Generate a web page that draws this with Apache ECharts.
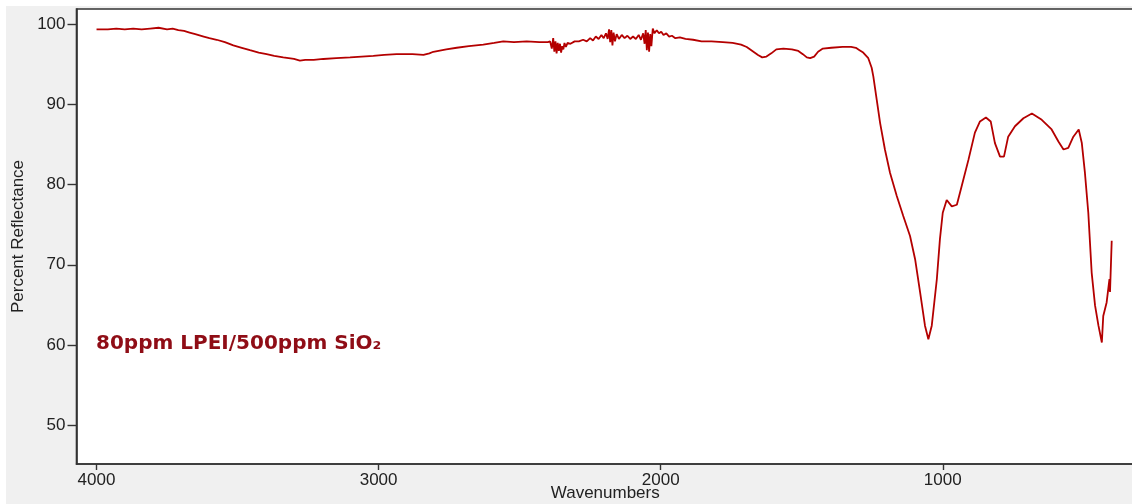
<!DOCTYPE html>
<html>
<head>
<meta charset="utf-8">
<title>80ppm LPEI/500ppm SiO2 reflectance spectrum</title>
<script src="https://cdn.jsdelivr.net/npm/echarts@6/dist/echarts.min.js"></script>
<style>
  html, body { margin: 0; padding: 0; background: #ffffff; }
  #chart {
    position: absolute; left: 0; top: 0; width: 1132px; height: 504px;
    background: #f0f0f0;
    box-shadow: inset 6px 6px 0 #ffffff;
  }
</style>
</head>
<body>
<div id="chart"></div>
<script>
// Spectrum: wavenumber (cm-1) and percent reflectance
const wavenumbers = [
  4000, 3960, 3930, 3900, 3870, 3840, 3810, 3780, 3750, 3730, 3710, 3690, 3670, 3650, 3620, 3600,
  3574, 3545, 3515, 3485, 3456, 3425, 3397, 3370, 3338, 3300, 3279, 3260, 3230, 3196, 3150, 3101,
  3060, 3019, 2980, 2936, 2880, 2841, 2820, 2806, 2760, 2723, 2680, 2629, 2590, 2558, 2520, 2475,
  2430, 2400, 2392, 2386, 2381, 2377, 2373, 2369, 2365, 2361, 2357, 2353, 2349, 2345, 2341, 2336,
  2330, 2320, 2305, 2290, 2275, 2262, 2250, 2240, 2230, 2220, 2210, 2202, 2194, 2188, 2183, 2179,
  2175, 2171, 2167, 2162, 2156, 2148, 2138, 2128, 2118, 2108, 2098, 2088, 2078, 2070, 2062, 2057,
  2053, 2049, 2045, 2041, 2037, 2033, 2028, 2022, 2014, 2006, 1998, 1990, 1980, 1970, 1960, 1948,
  1932, 1912, 1885, 1855, 1820, 1780, 1745, 1715, 1695, 1675, 1655, 1640, 1625, 1608, 1590, 1565,
  1535, 1512, 1496, 1482, 1470, 1456, 1442, 1425, 1395, 1355, 1325, 1308, 1295, 1282, 1264, 1252,
  1246, 1234, 1222, 1205, 1187, 1163, 1140, 1116, 1098, 1080, 1063, 1051, 1039, 1021, 1010, 1000,
  986, 968, 950, 933, 909, 886, 868, 847, 830, 815, 797, 783, 768, 744, 714, 684,
  649, 614, 590, 572, 555, 537, 518, 507, 496, 484, 472, 460, 448, 436, 431, 419,
  409, 407, 401
];
const reflectance = [
  99.4, 99.4, 99.5, 99.4, 99.5, 99.4, 99.5, 99.6, 99.4, 99.5, 99.3, 99.2, 99.0, 98.8, 98.5, 98.3,
  98.1, 97.8, 97.4, 97.1, 96.8, 96.5, 96.3, 96.1, 95.9, 95.7, 95.5, 95.6, 95.6, 95.7, 95.8, 95.9,
  96.0, 96.1, 96.2, 96.3, 96.3, 96.2, 96.4, 96.6, 96.9, 97.1, 97.3, 97.5, 97.7, 97.9, 97.8, 97.9,
  97.8, 97.8, 97.9, 97.0, 98.3, 96.6, 97.9, 96.4, 97.7, 96.7, 97.6, 96.5, 97.3, 96.9, 97.7, 97.2,
  97.7, 97.6, 97.9, 97.9, 98.1, 97.9, 98.3, 98.0, 98.5, 98.2, 98.7, 98.3, 98.9, 98.2, 99.4, 97.8,
  99.3, 97.4, 99.0, 97.9, 98.8, 98.2, 98.7, 98.3, 98.6, 98.2, 98.5, 98.2, 98.7, 98.1, 98.9, 97.6,
  99.3, 96.8, 99.0, 96.6, 98.8, 97.3, 99.5, 98.9, 99.3, 98.9, 99.1, 98.7, 98.9, 98.5, 98.6, 98.3,
  98.4, 98.2, 98.1, 97.9, 97.9, 97.8, 97.7, 97.5, 97.2, 96.7, 96.2, 95.9, 96.0, 96.4, 96.9, 97.0,
  96.9, 96.7, 96.3, 95.9, 95.8, 96.0, 96.6, 97.0, 97.1, 97.2, 97.2, 97.1, 96.8, 96.5, 95.8, 94.6,
  93.5, 90.6, 87.7, 84.4, 81.5, 78.6, 76.1, 73.6, 70.7, 66.5, 62.4, 60.7, 62.4, 68.2, 73.2, 76.5,
  78.1, 77.3, 77.5, 79.8, 83.1, 86.5, 87.9, 88.4, 87.9, 85.2, 83.5, 83.5, 86.0, 87.3, 88.3, 88.9,
  88.1, 86.9, 85.4, 84.4, 84.6, 86.0, 86.9, 85.2, 81.5, 76.5, 69.0, 64.9, 62.4, 60.3, 63.6, 65.3,
  68.2, 66.6, 73.0
];

// Tick positions and labels
const xTicks = [1000, 2000, 3000, 4000];
const yTicks = [50, 60, 70, 80, 90, 100];
const sampleLabel = '80ppm LPEI/500ppm SiO\u2082';

const points = wavenumbers.map((w, i) => [w, reflectance[i]]);

const tickFont = '"Liberation Sans", Arial, sans-serif';
const frameColor = '#333333';
const plain = v => String(v);

const chart = echarts.init(document.getElementById('chart'), null, { renderer: 'canvas' });
chart.setOption({
  animation: false,
  backgroundColor: 'transparent',
  grid: {
    left: 76.5, top: 9, right: -2, bottom: 40,
    show: true, backgroundColor: '#ffffff',
    borderColor: frameColor, borderWidth: 1.6,
    containLabel: false, outerBoundsMode: 'none'
  },
  xAxis: {
    type: 'value', inverse: true, min: 322, max: 4071,
    name: 'Wavenumbers', nameLocation: 'middle', nameGap: 21, nameMoveOverlap: false,
    nameTextStyle: { fontFamily: tickFont, fontSize: 17, color: '#222' },
    axisLine: { show: true, lineStyle: { color: frameColor, width: 1.6 } },
    axisTick: { show: true, inside: false, length: 6, customValues: xTicks,
                lineStyle: { color: frameColor, width: 1.4 } },
    axisLabel: { show: true, customValues: xTicks, margin: 8, formatter: plain,
                 fontFamily: tickFont, fontSize: 17, color: '#222' },
    splitLine: { show: false }
  },
  yAxis: {
    type: 'value', min: 45.13, max: 101.94,
    name: 'Percent Reflectance', nameLocation: 'middle', nameGap: 50, nameMoveOverlap: false,
    nameTextStyle: { fontFamily: tickFont, fontSize: 17, color: '#222' },
    axisLine: { show: true, lineStyle: { color: frameColor, width: 1.6 } },
    axisTick: { show: true, inside: false, length: 9, customValues: yTicks,
                lineStyle: { color: frameColor, width: 1.4 } },
    axisLabel: { show: true, customValues: yTicks, margin: 11, formatter: plain,
                 fontFamily: tickFont, fontSize: 17, color: '#222' },
    splitLine: { show: false }
  },
  graphic: [{
    type: 'text', left: 96, top: 334, z: 10,
    style: {
      text: sampleLabel,
      fill: '#8f0d16',
      font: 'bold 20px "DejaVu Sans", "Liberation Sans", sans-serif'
    }
  }],
  series: [{
    type: 'line', data: points, showSymbol: false, smooth: false,
    lineStyle: { color: '#b40000', width: 1.8 },
    itemStyle: { color: '#b40000' }
  }]
});
</script>
</body>
</html>
